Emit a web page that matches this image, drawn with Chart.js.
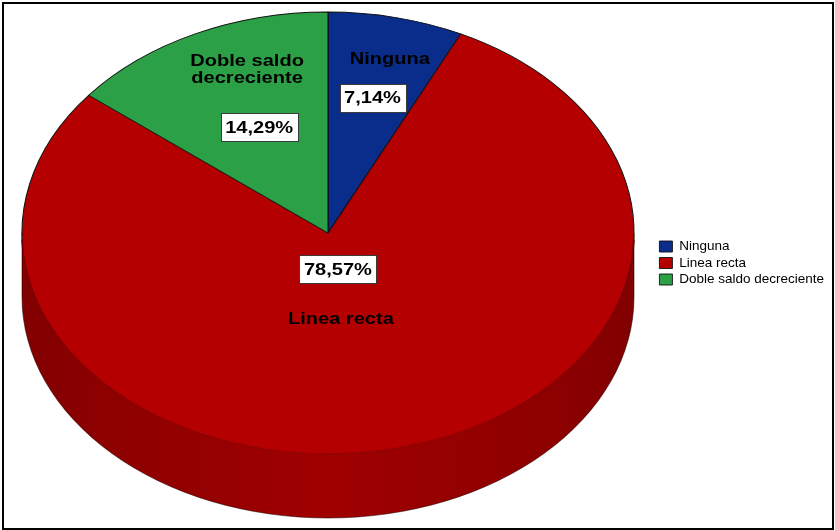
<!DOCTYPE html>
<html>
<head>
<meta charset="utf-8">
<script src="https://cdn.jsdelivr.net/npm/chart.js@4/dist/chart.umd.min.js"></script>
<style>
  html, body { margin: 0; padding: 0; background: #fff; }
  #wrap { width: 835px; height: 530px; position: relative; }
</style>
</head>
<body>
<div id="wrap"><canvas id="chart" width="835" height="530"></canvas></div>
<script>
// Method of depreciation used (share of respondents, %)
const categories = ['Ninguna', 'Linea recta', 'Doble saldo decreciente'];
const percentages = [7.14, 78.57, 14.29];
const sliceColors = ['#0a2d8c', '#b40000', '#2ca046'];

// Tilted pie geometry: centre, semi-axes of the top face, thickness
const PIE = { cx: 328, cy: 233, rx: 306, ry: 221, depth: 64 };

// Label anchors: [fraction of radius, angle nudge in degrees] from the slice mid-angle
const LABEL_LAYOUT = [
  { name: [0.81, 1.6], value: [0.63, 0.5] },
  { name: [0.391, 6.7], value: [0.166, 1.6] },
  { name: [0.784, 6.0], value: [0.53, 0.6] }
];

const LABEL_FONT = 'bold 17px "Liberation Sans", Arial, sans-serif';
const LABEL_STRETCH = 1.18;

function shade(hex, f) {
  const n = parseInt(hex.slice(1), 16);
  const r = Math.round(((n >> 16) & 255) * f);
  const g = Math.round(((n >> 8) & 255) * f);
  const b = Math.round((n & 255) * f);
  return `rgb(${r},${g},${b})`;
}

function sideGradient(ctx, hex) {
  const g = ctx.createLinearGradient(PIE.cx - PIE.rx, 0, PIE.cx + PIE.rx, 0);
  g.addColorStop(0, shade(hex, 0.72));
  g.addColorStop(0.12, shade(hex, 0.78));
  g.addColorStop(0.5, shade(hex, 0.89));
  g.addColorStop(0.88, shade(hex, 0.78));
  g.addColorStop(1, shade(hex, 0.72));
  return g;
}

// Parts of an arc [s, e] that face the viewer (lower half of the ellipse)
function frontRanges(s, e) {
  const out = [];
  for (const k of [-2 * Math.PI, 0, 2 * Math.PI]) {
    const lo = Math.max(s, k), hi = Math.min(e, k + Math.PI);
    if (hi > lo) out.push([lo - k, hi - k]);
  }
  return out;
}

function wrapWords(ctx, text, maxWidth) {
  const words = text.split(' ');
  const lines = [];
  let line = '';
  for (const w of words) {
    const test = line ? line + ' ' + w : w;
    if (line && ctx.measureText(test).width * LABEL_STRETCH > maxWidth) {
      lines.push(line);
      line = w;
    } else {
      line = test;
    }
  }
  if (line) lines.push(line);
  return lines;
}

function stretchedText(ctx, text, x, y) {
  ctx.save();
  ctx.translate(x, y);
  ctx.scale(LABEL_STRETCH, 1);
  ctx.fillText(text, 0, 0);
  ctx.restore();
}

function anchor(arc, spec) {
  const mid = (arc.startAngle + arc.endAngle) / 2 + spec[1] * Math.PI / 180;
  return {
    x: PIE.cx + PIE.rx * spec[0] * Math.cos(mid),
    y: PIE.cy + PIE.ry * spec[0] * Math.sin(mid)
  };
}

const tiltedPie = {
  id: 'tiltedPie',
  beforeDraw(chart) {
    const ctx = chart.ctx;
    ctx.save();
    ctx.fillStyle = '#ffffff';
    ctx.fillRect(0, 0, chart.width, chart.height);
    ctx.restore();
  },
  beforeDatasetsDraw(chart) {
    const ctx = chart.ctx;
    const arcs = chart.getDatasetMeta(0).data;
    // Thickness of the pie, drawn under the top face
    arcs.forEach((arc, i) => {
      frontRanges(arc.startAngle, arc.endAngle).forEach(([a1, a2]) => {
        ctx.beginPath();
        ctx.ellipse(PIE.cx, PIE.cy, PIE.rx, PIE.ry, 0, a1, a2);
        ctx.ellipse(PIE.cx, PIE.cy + PIE.depth, PIE.rx, PIE.ry, 0, a2, a1, true);
        ctx.closePath();
        ctx.fillStyle = sideGradient(ctx, sliceColors[i]);
        ctx.fill();
      });
    });
    // Squash the library's round pie into the tilted top face
    const { x, y, outerRadius } = arcs[0];
    ctx.save();
    ctx.translate(PIE.cx, PIE.cy);
    ctx.scale(PIE.rx / outerRadius, PIE.ry / outerRadius);
    ctx.translate(-x, -y);
  },
  afterDatasetsDraw(chart) {
    const ctx = chart.ctx;
    ctx.restore();
    const arcs = chart.getDatasetMeta(0).data;

    // Soften the seam between the top face and the front side
    arcs.forEach((arc, i) => {
      frontRanges(arc.startAngle, arc.endAngle).forEach(([a1, a2]) => {
        ctx.beginPath();
        ctx.ellipse(PIE.cx, PIE.cy, PIE.rx, PIE.ry, 0, Math.max(a1, 0.03), Math.min(a2, Math.PI - 0.03));
        ctx.strokeStyle = sideGradient(ctx, sliceColors[i]);
        ctx.lineWidth = 1.6;
        ctx.stroke();
      });
    });

    // Silhouette of the pie's thickness
    ctx.beginPath();
    ctx.moveTo(PIE.cx - PIE.rx, PIE.cy);
    ctx.lineTo(PIE.cx - PIE.rx, PIE.cy + PIE.depth);
    ctx.ellipse(PIE.cx, PIE.cy + PIE.depth, PIE.rx, PIE.ry, 0, Math.PI, 0, true);
    ctx.lineTo(PIE.cx + PIE.rx, PIE.cy);
    ctx.strokeStyle = 'rgba(40,0,0,0.55)';
    ctx.lineWidth = 1;
    ctx.stroke();

    // Category names and percentage boxes
    ctx.save();
    ctx.font = LABEL_FONT;
    ctx.textAlign = 'center';
    ctx.textBaseline = 'middle';
    arcs.forEach((arc, i) => {
      const layout = LABEL_LAYOUT[i];
      // name
      const np = anchor(arc, layout.name);
      const lines = wrapWords(ctx, categories[i], 130);
      const lh = 17;
      lines.forEach((ln, k) => {
        ctx.fillStyle = '#000';
        stretchedText(ctx, ln, np.x, np.y + (k - (lines.length - 1) / 2) * lh);
      });
      // value in a white box
      const vp = anchor(arc, layout.value);
      const txt = percentages[i].toFixed(2).replace('.', ',') + '%';
      const w = ctx.measureText(txt).width * LABEL_STRETCH + 9;
      const h = 28;
      const bx = Math.round(vp.x - w / 2) + 0.5;
      const by = Math.round(vp.y - h / 2) + 0.5;
      ctx.fillStyle = '#ffffff';
      ctx.fillRect(bx, by, Math.round(w), h);
      ctx.strokeStyle = '#3a3a3a';
      ctx.lineWidth = 1;
      ctx.strokeRect(bx, by, Math.round(w), h);
      ctx.fillStyle = '#000';
      stretchedText(ctx, txt, vp.x, vp.y + 1);
    });
    ctx.restore();
  },
  afterDraw(chart) {
    const ctx = chart.ctx;
    ctx.save();
    ctx.strokeStyle = '#000';
    ctx.lineWidth = 2;
    ctx.strokeRect(3, 3, 830, 526);
    ctx.restore();
  }
};

new Chart(document.getElementById('chart'), {
  type: 'pie',
  data: {
    labels: categories,
    datasets: [{
      data: percentages,
      backgroundColor: sliceColors,
      borderColor: '#111111',
      borderWidth: 0.9,
      clip: false
    }]
  },
  options: {
    responsive: false,
    animation: false,
    events: [],
    layout: { padding: { right: 1, bottom: 4 } },
    plugins: {
      tooltip: { enabled: false },
      legend: {
        position: 'right',
        align: 'center',
        labels: {
          boxWidth: 13,
          boxHeight: 11,
          padding: 3,
          color: '#000',
          font: { family: '"Liberation Sans", Arial, sans-serif', size: 13.5 }
        }
      }
    }
  },
  plugins: [tiltedPie]
});
</script>
</body>
</html>
